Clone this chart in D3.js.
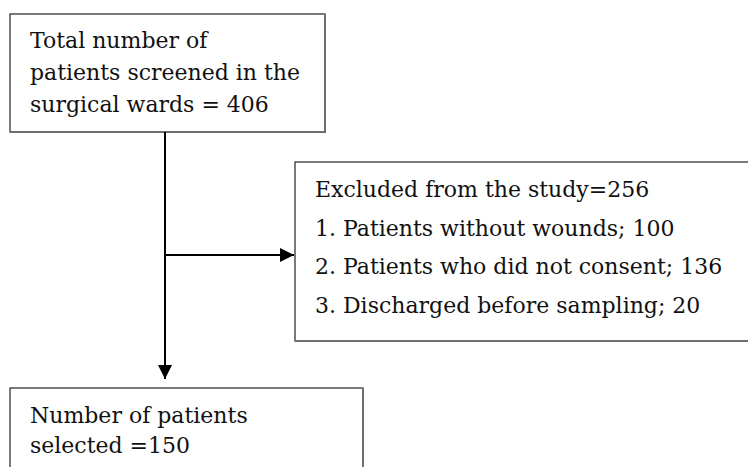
<!DOCTYPE html>
<html>
<head>
<meta charset="utf-8">
<script src="https://cdn.jsdelivr.net/npm/d3@7"></script>
<style>
  body { margin: 0; background: #fff; }
  text { font-family: "DejaVu Serif", serif; font-size: 22px; fill: #111; }
</style>
</head>
<body>
<div id="chart"></div>
<script>
// Flowchart data
const screenedTotal = 406;
const excludedReasons = ["Patients without wounds", "Patients who did not consent", "Discharged before sampling"];
const excludedCounts = [100, 136, 20];
const selectedTotal = 150;

const excludedTotal = d3.sum(excludedCounts);

const screenedLines = ["Total number of", "patients screened in the", `surgical wards = ${screenedTotal}`];
const excludedLines = [`Excluded from the study=${excludedTotal}`]
  .concat(excludedReasons.map((r, i) => `${i + 1}. ${r}; ${excludedCounts[i]}`));
const selectedLines = ["Number of patients", `selected =${selectedTotal}`];

const width = 748, height = 467;

const svg = d3.select("#chart")
  .append("svg")
  .attr("width", width)
  .attr("height", height);

// arrow head
svg.append("defs").append("marker")
  .attr("id", "arrow")
  .attr("viewBox", "0 0 10 10")
  .attr("refX", 10)
  .attr("refY", 5)
  .attr("markerUnits", "userSpaceOnUse")
  .attr("markerWidth", 15)
  .attr("markerHeight", 14)
  .attr("orient", "auto")
  .append("path")
  .attr("d", "M0,0L10,5L0,10Z")
  .attr("fill", "#000");

// boxes
const boxes = [
  { x: 10, y: 14, w: 315, h: 118, lines: screenedLines, tx: 30, ty: 48, lh: 32 },
  { x: 295, y: 162, w: 470, h: 179, lines: excludedLines, tx: 315, ty: 197, lh: 38.7 },
  { x: 10, y: 388, w: 353, h: 120, lines: selectedLines, tx: 30, ty: 423, lh: 30 }
];

const g = svg.selectAll("g.box")
  .data(boxes)
  .join("g")
  .attr("class", "box");

g.append("rect")
  .attr("x", d => d.x)
  .attr("y", d => d.y)
  .attr("width", d => d.w)
  .attr("height", d => d.h)
  .attr("fill", "#fff")
  .attr("stroke", "#222")
  .attr("stroke-width", 1.2);

// greyish right/bottom edges
g.append("path")
  .attr("d", d => `M${d.x + d.w},${d.y}V${d.y + d.h}H${d.x}`)
  .attr("fill", "none")
  .attr("stroke", "#6e6e6e")
  .attr("stroke-width", 2);

g.selectAll("text")
  .data(d => d.lines.map((t, i) => ({ t, x: d.tx, y: d.ty + i * d.lh })))
  .join("text")
  .attr("x", d => d.x)
  .attr("y", d => d.y)
  .text(d => d.t);

// connectors
const stemX = 165;
svg.append("line")
  .attr("x1", stemX).attr("y1", 132)
  .attr("x2", stemX).attr("y2", 379)
  .attr("stroke", "#000")
  .attr("stroke-width", 2)
  .attr("marker-end", "url(#arrow)");

svg.append("line")
  .attr("x1", stemX).attr("y1", 255)
  .attr("x2", 294).attr("y2", 255)
  .attr("stroke", "#000")
  .attr("stroke-width", 2)
  .attr("marker-end", "url(#arrow)");
</script>
</body>
</html>
